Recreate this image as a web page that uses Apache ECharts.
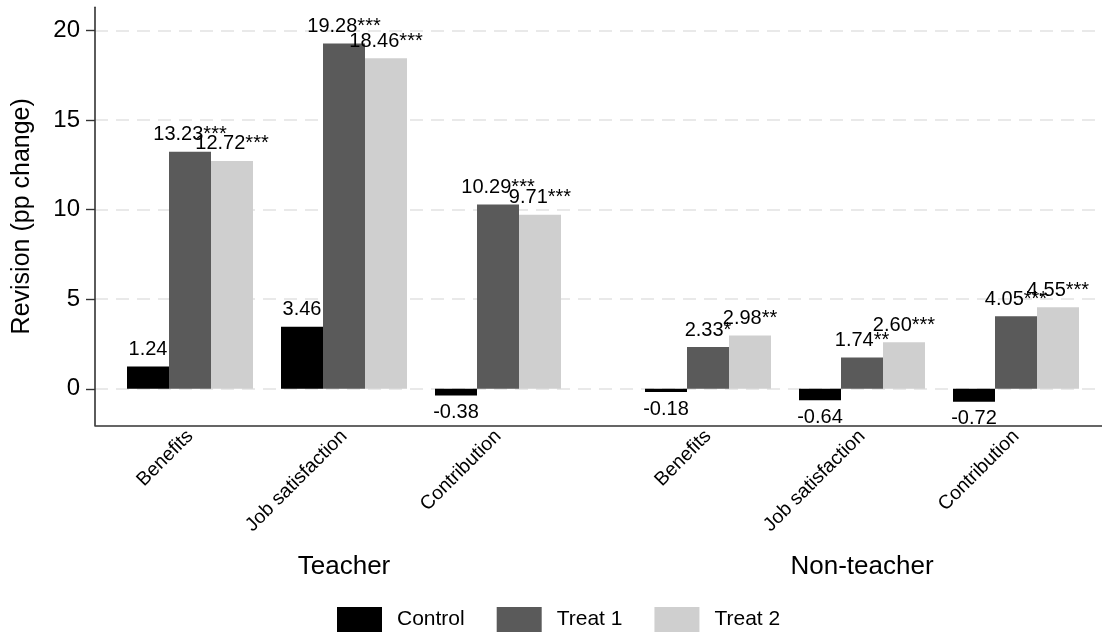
<!DOCTYPE html>
<html>
<head>
<meta charset="utf-8">
<title>Revision by treatment</title>
<script src="https://cdn.jsdelivr.net/npm/echarts@6/dist/echarts.min.js"></script>
<style>
  html, body { margin: 0; padding: 0; background: #fff; }
  #chart { width: 1102px; height: 635px; }
</style>
</head>
<body>
<div id="chart"></div>
<script>
// Items shown within each respondent group
const items = ['Benefits', 'Job satisfaction', 'Contribution'];
const groups = ['Teacher', 'Non-teacher'];
const seriesNames = ['Control', 'Treat 1', 'Treat 2'];

// Revision in percentage points, per group, in item order
const teacherControl = [1.24, 3.46, -0.38];
const teacherTreat1 = [13.23, 19.28, 10.29];
const teacherTreat2 = [12.72, 18.46, 9.71];
const nonTeacherControl = [-0.18, -0.64, -0.72];
const nonTeacherTreat1 = [2.33, 1.74, 4.05];
const nonTeacherTreat2 = [2.98, 2.60, 4.55];

// Significance stars
const teacherStars1 = ['***', '***', '***'];
const teacherStars2 = ['***', '***', '***'];
const nonTeacherStars1 = ['*', '**', '***'];
const nonTeacherStars2 = ['**', '***', '***'];
const noStars = ['', '', ''];

// Y axis ticks
const yTicks = [0, 5, 10, 15, 20];
const yMin = -2.04;
const yMax = 21.3;

const colors = ['#000000', '#5a5a5a', '#cfcfcf'];
const FONT = '"Liberation Sans", Arial, Helvetica, sans-serif';

const chart = echarts.init(document.getElementById('chart'), null, { renderer: 'canvas' });

const plotTop = 7.3;
const plotHeight = 418;

function barSeries(name, values, stars, color, axisIndex) {
  return {
    type: 'bar',
    name: name,
    xAxisIndex: axisIndex,
    yAxisIndex: axisIndex,
    barWidth: 42,
    barGap: '0%',
    z: 3,
    itemStyle: { color: color },
    data: values.map(function (v) {
      return { value: v, label: { position: v < 0 ? 'bottom' : 'top' } };
    }),
    label: {
      show: true,
      distance: 7,
      color: '#000',
      fontSize: 20,
      fontFamily: FONT,
      formatter: function (p) { return p.value.toFixed(2) + stars[p.dataIndex]; }
    }
  };
}

function groupAxis(gridIndex, name) {
  return {
    type: 'category',
    gridIndex: gridIndex,
    data: items,
    position: 'bottom',
    axisLine: { show: false, onZero: false },
    axisTick: { show: false },
    splitLine: { show: false },
    axisLabel: {
      rotate: 45,
      margin: 8,
      fontSize: 19.5,
      color: '#000',
      fontFamily: FONT,
      interval: 0
    },
    name: name,
    nameLocation: 'middle',
    nameGap: 129,
    nameTextStyle: { fontSize: 26, color: '#000', fontFamily: FONT }
  };
}

function hiddenY(gridIndex) {
  return { type: 'value', gridIndex: gridIndex, min: yMin, max: yMax, show: false, splitLine: { show: false } };
}

const option = {
  animation: false,
  backgroundColor: '#ffffff',
  textStyle: { fontFamily: FONT },
  color: colors,
  grid: [
    { left: 95, right: 0, top: plotTop, height: plotHeight, outerBoundsMode: 'none' },
    { left: 113, width: 462, top: plotTop, height: plotHeight, outerBoundsMode: 'none' },
    { left: 631, width: 462, top: plotTop, height: plotHeight, outerBoundsMode: 'none' }
  ],
  legend: {
    data: seriesNames,
    left: 337,
    top: 607,
    padding: 0,
    icon: 'rect',
    itemWidth: 45,
    itemHeight: 25,
    itemGap: 32,
    textStyle: { fontSize: 21, color: '#000', fontFamily: FONT, padding: [0, 0, 0, 10] }
  },
  xAxis: [
    {
      type: 'category',
      gridIndex: 0,
      data: [''],
      axisLine: { show: true, onZero: false, lineStyle: { color: '#333', width: 1.6 } },
      axisTick: { show: false },
      axisLabel: { show: false },
      splitLine: { show: false }
    },
    groupAxis(1, groups[0]),
    groupAxis(2, groups[1])
  ],
  yAxis: [
    {
      type: 'value',
      gridIndex: 0,
      min: yMin,
      max: yMax,
      axisLine: { show: true, onZero: false, lineStyle: { color: '#333', width: 1.6 } },
      axisTick: { show: true, length: 9, customValues: yTicks, lineStyle: { color: '#333', width: 1.4 } },
      axisLabel: { customValues: yTicks, fontSize: 24, color: '#000', margin: 15, fontFamily: FONT },
      splitLine: { show: false },
      name: 'Revision (pp change)',
      nameLocation: 'middle',
      nameGap: 60,
      nameTextStyle: { fontSize: 25, color: '#000', fontFamily: FONT }
    },
    hiddenY(1),
    hiddenY(2)
  ],
  series: [
    {
      // dashed horizontal reference lines at the labelled ticks, kept behind the bars
      type: 'line',
      name: 'grid',
      xAxisIndex: 0,
      yAxisIndex: 0,
      data: [],
      z: 0,
      silent: true,
      markLine: {
        silent: true,
        z: 0,
        symbol: 'none',
        label: { show: false },
        lineStyle: { color: '#e9e9e9', width: 2, type: [13, 8] },
        data: yTicks.map(function (t) { return { yAxis: t }; })
      }
    },
    barSeries(seriesNames[0], teacherControl, noStars, colors[0], 1),
    barSeries(seriesNames[1], teacherTreat1, teacherStars1, colors[1], 1),
    barSeries(seriesNames[2], teacherTreat2, teacherStars2, colors[2], 1),
    barSeries(seriesNames[0], nonTeacherControl, noStars, colors[0], 2),
    barSeries(seriesNames[1], nonTeacherTreat1, nonTeacherStars1, colors[1], 2),
    barSeries(seriesNames[2], nonTeacherTreat2, nonTeacherStars2, colors[2], 2)
  ]
};

chart.setOption(option);
</script>
</body>
</html>
